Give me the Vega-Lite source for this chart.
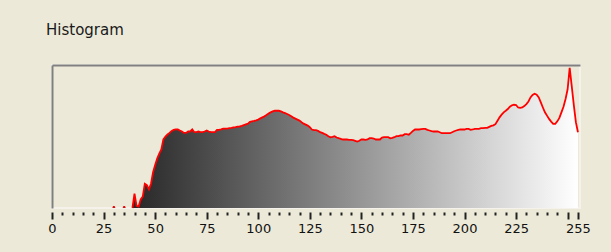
{
  "$schema": "https://vega.github.io/schema/vega-lite/v6.json",
  "width": 528,
  "height": 143,
  "autosize": {"type": "none"},
  "padding": {"left": 52, "top": 65, "right": 31, "bottom": 44},
  "background": "#ECE9D8",
  "config": {
    "view": {"stroke": "#f4f2ea", "strokeWidth": 2},
    "font": "DejaVu Sans"
  },
  "title": {
    "text": "Histogram",
    "anchor": "start",
    "frame": "group",
    "dx": -6,
    "offset": 14,
    "baseline": "alphabetic",
    "font": "DejaVu Sans",
    "fontSize": 15,
    "fontWeight": "normal",
    "color": "#1a1a1a"
  },
  "data": {
    "values": [
      {"v":0,"c":0},{"v":1,"c":0},{"v":2,"c":0},{"v":3,"c":0},{"v":4,"c":0},{"v":5,"c":0},{"v":6,"c":0},{"v":7,"c":0},{"v":8,"c":0},{"v":9,"c":0},
      {"v":10,"c":0},{"v":11,"c":0},{"v":12,"c":0},{"v":13,"c":0},{"v":14,"c":0},{"v":15,"c":0},{"v":16,"c":0},{"v":17,"c":0},{"v":18,"c":0},{"v":19,"c":0},
      {"v":20,"c":0},{"v":21,"c":0},{"v":22,"c":0},{"v":23,"c":0},{"v":24,"c":0},{"v":25,"c":0},{"v":26,"c":0},{"v":27,"c":0},{"v":28,"c":0},{"v":29,"c":0},
      {"v":30,"c":0.7},{"v":31,"c":0},{"v":32,"c":0},{"v":33,"c":0},{"v":34,"c":0},{"v":35,"c":0.7},{"v":36,"c":0},{"v":37,"c":0},{"v":38,"c":0},{"v":39,"c":0},
      {"v":40,"c":10},{"v":41,"c":1.5},{"v":42,"c":1},{"v":43,"c":6},{"v":44,"c":8},{"v":45,"c":17},{"v":46,"c":16},{"v":47,"c":13},{"v":48,"c":17},{"v":49,"c":25},
      {"v":50,"c":30},{"v":51,"c":34.5},{"v":52,"c":38},{"v":53,"c":41},{"v":54,"c":48},{"v":55,"c":50},{"v":56,"c":51.4},{"v":57,"c":52.5},{"v":58,"c":53.9},{"v":59,"c":54.6},
      {"v":60,"c":55},{"v":61,"c":55},{"v":62,"c":54.2},{"v":63,"c":53.5},{"v":64,"c":52.5},{"v":65,"c":52.5},{"v":66,"c":53.5},{"v":67,"c":53.5},{"v":68,"c":55},{"v":69,"c":53},
      {"v":70,"c":53},{"v":71,"c":53.5},{"v":72,"c":53},{"v":73,"c":53},{"v":74,"c":53.5},{"v":75,"c":54.2},{"v":76,"c":53.5},{"v":77,"c":53},{"v":78,"c":53},{"v":79,"c":53},
      {"v":80,"c":54.6},{"v":81,"c":54.6},{"v":82,"c":55},{"v":83,"c":55.5},{"v":84,"c":55.5},{"v":85,"c":55.5},{"v":86,"c":55.8},{"v":87,"c":56},{"v":88,"c":56.3},{"v":89,"c":56.5},
      {"v":90,"c":56.9},{"v":91,"c":57},{"v":92,"c":57.4},{"v":93,"c":58},{"v":94,"c":58.5},{"v":95,"c":59},{"v":96,"c":60.2},{"v":97,"c":60.6},{"v":98,"c":60.9},{"v":99,"c":61.3},
      {"v":100,"c":61.8},{"v":101,"c":62.7},{"v":102,"c":63.4},{"v":103,"c":64.1},{"v":104,"c":65},{"v":105,"c":66},{"v":106,"c":66.9},{"v":107,"c":67.6},{"v":108,"c":68},{"v":109,"c":68},
      {"v":110,"c":68},{"v":111,"c":67.6},{"v":112,"c":66.9},{"v":113,"c":66.4},{"v":114,"c":65.7},{"v":115,"c":65},{"v":116,"c":64.1},{"v":117,"c":63.2},{"v":118,"c":62.5},{"v":119,"c":61.8},
      {"v":120,"c":61.1},{"v":121,"c":60},{"v":122,"c":59},{"v":123,"c":58.3},{"v":124,"c":57.6},{"v":125,"c":56.5},{"v":126,"c":54.9},{"v":127,"c":54.4},{"v":128,"c":54.4},{"v":129,"c":53.9},
      {"v":130,"c":53},{"v":131,"c":52.5},{"v":132,"c":51.8},{"v":133,"c":51.2},{"v":134,"c":50.2},{"v":135,"c":49.5},{"v":136,"c":49.8},{"v":137,"c":50.2},{"v":138,"c":49.3},{"v":139,"c":48.8},
      {"v":140,"c":48.4},{"v":141,"c":47.9},{"v":142,"c":47.9},{"v":143,"c":47.9},{"v":144,"c":47.7},{"v":145,"c":47.7},{"v":146,"c":47.5},{"v":147,"c":47},{"v":148,"c":46.5},{"v":149,"c":47},
      {"v":150,"c":47.9},{"v":151,"c":47.9},{"v":152,"c":47.7},{"v":153,"c":47.9},{"v":154,"c":48.8},{"v":155,"c":48.8},{"v":156,"c":48.6},{"v":157,"c":47.9},{"v":158,"c":47.9},{"v":159,"c":47.9},
      {"v":160,"c":49.3},{"v":161,"c":49.5},{"v":162,"c":49.5},{"v":163,"c":49.5},{"v":164,"c":48.8},{"v":165,"c":49},{"v":166,"c":49.5},{"v":167,"c":50.2},{"v":168,"c":50.2},{"v":169,"c":50.7},
      {"v":170,"c":50.7},{"v":171,"c":51.6},{"v":172,"c":51.6},{"v":173,"c":51.2},{"v":174,"c":52.5},{"v":175,"c":53.9},{"v":176,"c":54.9},{"v":177,"c":54.9},{"v":178,"c":54.9},{"v":179,"c":55.1},
      {"v":180,"c":55.3},{"v":181,"c":55.3},{"v":182,"c":54.6},{"v":183,"c":54.2},{"v":184,"c":53.7},{"v":185,"c":53.5},{"v":186,"c":53.5},{"v":187,"c":53.5},{"v":188,"c":53},{"v":189,"c":52.3},
      {"v":190,"c":52.3},{"v":191,"c":52.3},{"v":192,"c":52.3},{"v":193,"c":52.3},{"v":194,"c":53},{"v":195,"c":53.7},{"v":196,"c":54.2},{"v":197,"c":54.6},{"v":198,"c":54.9},{"v":199,"c":54.9},
      {"v":200,"c":54.9},{"v":201,"c":55.3},{"v":202,"c":55.3},{"v":203,"c":54.6},{"v":204,"c":54.9},{"v":205,"c":55.3},{"v":206,"c":55.3},{"v":207,"c":55.3},{"v":208,"c":55.8},{"v":209,"c":55.8},
      {"v":210,"c":56},{"v":211,"c":56},{"v":212,"c":56.7},{"v":213,"c":57.4},{"v":214,"c":57.8},{"v":215,"c":58.6},{"v":216,"c":61},{"v":217,"c":63.4},{"v":218,"c":65.3},{"v":219,"c":66.9},
      {"v":220,"c":68},{"v":221,"c":69.2},{"v":222,"c":70.8},{"v":223,"c":71.8},{"v":224,"c":72.2},{"v":225,"c":72},{"v":226,"c":70.3},{"v":227,"c":70},{"v":228,"c":70.3},{"v":229,"c":71.3},
      {"v":230,"c":72.7},{"v":231,"c":74.5},{"v":232,"c":77.3},{"v":233,"c":79},{"v":234,"c":79.9},{"v":235,"c":79.2},{"v":236,"c":77.3},{"v":237,"c":73.8},{"v":238,"c":70.3},{"v":239,"c":66.9},
      {"v":240,"c":64.6},{"v":241,"c":62.3},{"v":242,"c":60.4},{"v":243,"c":58.8},{"v":244,"c":58.8},{"v":245,"c":60.6},{"v":246,"c":63},{"v":247,"c":66.9},{"v":248,"c":70.8},{"v":249,"c":76.2},
      {"v":250,"c":83},{"v":251,"c":98},{"v":252,"c":85},{"v":253,"c":72},{"v":254,"c":60},{"v":255,"c":53}
    ]
  },
  "layer": [
    {
      "mark": {
        "type": "area",
        "interpolate": "linear",
        "fill": {
          "gradient": "linear",
          "x1": 0, "y1": 0, "x2": 1, "y2": 0,
          "stops": [
            {"offset": 0, "color": "#000000"},
            {"offset": 1, "color": "#ffffff"}
          ]
        }
      },
      "encoding": {
        "x": {
          "field": "v",
          "type": "quantitative",
          "scale": {"domain": [0, 256], "nice": false, "zero": false},
          "axis": {
            "orient": "bottom",
            "title": null,
            "grid": false,
            "domain": false,
            "offset": 4,
            "values": [0,5,10,15,20,25,30,35,40,45,50,55,60,65,70,75,80,85,90,95,100,105,110,115,120,125,130,135,140,145,150,155,160,165,170,175,180,185,190,195,200,205,210,215,220,225,230,235,240,245,250,255],
            "tickColor": "#222222",
            "tickWidth": 2,
            "tickSize": {"condition": {"test": "datum.value % 25 === 0 || datum.value === 255", "value": 7}, "value": 3},
            "labelExpr": "((datum.value % 25 === 0 && datum.value !== 250) || datum.value === 255) ? datum.label : ''",
            "labelFont": "DejaVu Sans",
            "labelFontSize": 13,
            "labelColor": "#111111",
            "labelPadding": 3,
            "labelOverlap": false,
            "labelFlush": false,
            "labelBound": false
          }
        },
        "y": {
          "field": "c",
          "type": "quantitative",
          "scale": {"domain": [0, 100], "nice": false},
          "axis": {
            "orient": "left",
            "title": null,
            "grid": false,
            "ticks": false,
            "labels": false,
            "domain": true,
            "domainColor": "#808080",
            "domainWidth": 2
          }
        }
      }
    },
    {
      "transform": [{"filter": "datum.v >= 39"}],
      "mark": {"type": "line", "color": "#ff0000", "strokeWidth": 1.8, "interpolate": "linear"},
      "encoding": {
        "x": {
          "field": "v",
          "type": "quantitative",
          "axis": {
            "orient": "top",
            "title": null,
            "grid": false,
            "ticks": false,
            "labels": false,
            "domain": true,
            "domainColor": "#808080",
            "domainWidth": 2
          }
        },
        "y": {"field": "c", "type": "quantitative", "axis": null}
      }
    },
    {
      "transform": [{"filter": "datum.v < 39 && datum.c > 0"}],
      "mark": {"type": "square", "color": "#ff0000", "size": 4, "opacity": 1, "filled": true},
      "encoding": {
        "x": {"field": "v", "type": "quantitative", "axis": null},
        "y": {"field": "c", "type": "quantitative", "axis": null}
      }
    }
  ],
  "resolve": {"axis": {"x": "independent", "y": "independent"}}
}
